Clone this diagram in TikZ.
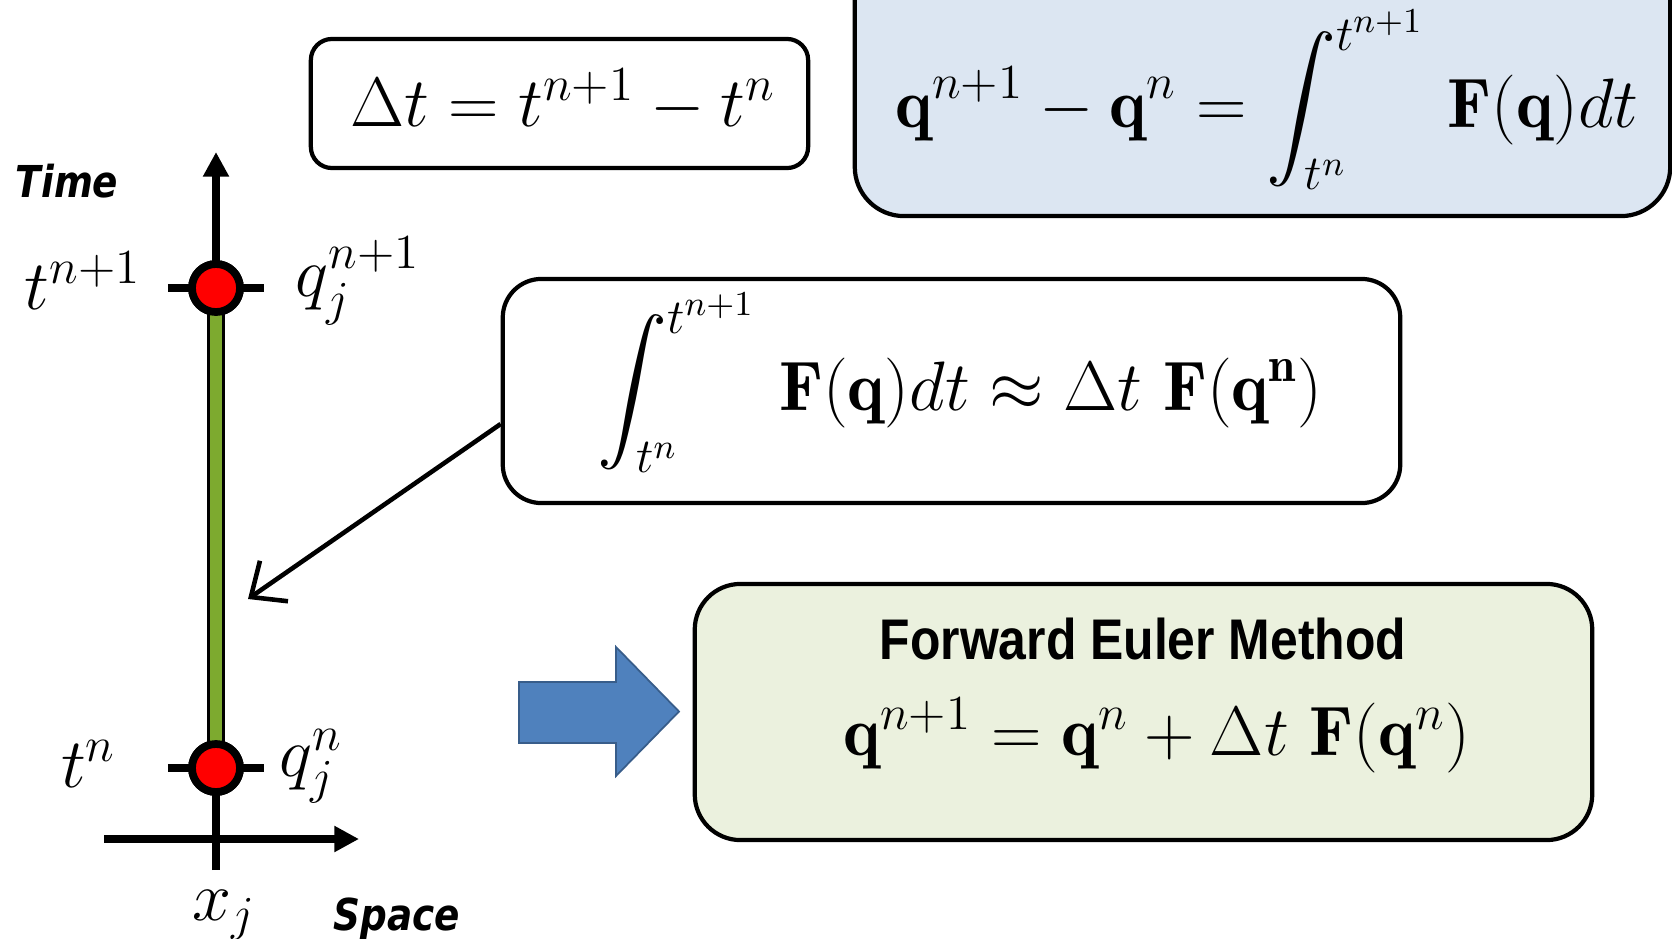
\RequirePackage{fix-cm}
\documentclass[tikz,border=0pt]{standalone}
\usepackage{amsmath,amssymb}
\usepackage{fontspec}
\newfontfamily\axisfont[FakeStretch=0.85]{DejaVu Sans}
\newfontfamily\titlefont[FakeStretch=0.87]{Liberation Sans}
\usetikzlibrary{arrows.meta}
\definecolor{exactblue}{HTML}{DCE6F2}
\definecolor{eulergreen}{HTML}{EBF1DE}
\definecolor{barcolor}{HTML}{7DAA2F}
\definecolor{arrowblue}{HTML}{4F81BD}
\definecolor{arrowedge}{HTML}{385D8A}

\begin{document}
\begin{tikzpicture}[x=0.01cm, y=-0.01cm,
    every node/.style={inner sep=0pt, font=\fontsize{19.9}{24}\selectfont},
    mathbox/.style={draw, line width=1.2pt, rounded corners=6pt},
    dot/.style={circle, draw, fill=red, line width=2.2pt, minimum size=0.48cm},
    tick/.style={line width=2pt},
    axis/.style={line width=2pt, -{Triangle[length=7pt,width=7pt]}},
    axislabel/.style={anchor=base west, font=\axisfont\bfseries\itshape\fontsize{12.5}{14}\selectfont}]
    \useasboundingbox (0,0) rectangle (1672,939);

    % Space-time axes
    \coordinate (tbot) at (216,870);
    \coordinate (ttop) at (216,152);
    \coordinate (xleft) at (104,839);
    \coordinate (xright) at (359,839);
    \draw[axis] (tbot) -- (ttop);
    \draw[axis] (xleft) -- (xright);
    \node[axislabel] (timelbl) at (15,197) {Time};
    \node[axislabel] (spacelbl) at (333,930) {Space};

    % Time levels
    \node[dot] (qnew) at (216,288) {};
    \node[dot] (qold) at (216,768) {};
    \draw[fill=barcolor, line width=0.6pt] ([xshift=-0.075cm]qnew.center) rectangle ([xshift=0.075cm]qold.center);
    \draw[tick] ([xshift=-0.48cm]qnew.center) -- ([xshift=0.48cm]qnew.center);
    \draw[tick] ([xshift=-0.48cm]qold.center) -- ([xshift=0.48cm]qold.center);
    \node[dot] at (qnew) {};
    \node[dot] at (qold) {};
    \node[anchor=base east] (tnew) at (142,309) {$t^{n+1}$};
    \node[anchor=base east] (told) at (117,787) {$t^{n}$};
    \node[anchor=base west] (qnewlbl) at (295,296) {$q_j^{n+1}$};
    \node[anchor=base west] (qoldlbl) at (279,776) {$q_j^{n}$};
    \node[anchor=base] (xlbl) at (224,920) {$x_j$};

    % Delta t
    \node[mathbox, minimum width=4.97cm, minimum height=1.29cm] (dtbox) at (559.5,103.5) {};
    \node[anchor=base] (dteq) at (563,126) {$\Delta t = t^{n+1} - t^n$};

    % Exact update
    \node[mathbox, rounded corners=14pt, fill=exactblue, minimum width=8.15cm, minimum height=3cm] (exactbox) at (1262.5,66) {};
    \node[anchor=base] (exacteq) at (1267,127) {$\displaystyle \mathbf{q}^{n+1} - \mathbf{q}^n = \int_{t^n}^{t^{n+1}}\, \mathbf{F}(\mathbf{q})dt$};

    % Approximation of the integral
    \node[mathbox, rounded corners=11pt, minimum width=8.97cm, minimum height=2.24cm] (intbox) at (951.5,391) {};
    \node[anchor=base] (inteq) at (960,410) {$\displaystyle \int_{t^n}^{t^{n+1}}\, \mathbf{F}(\mathbf{q})dt \approx \Delta t\ \mathbf{F}(\mathbf{q}^{\mathbf{n}})$};
    \coordinate (barpoint) at (248,599);
    \draw[line width=1.3pt, -{Straight Barb[length=8pt,width=14pt]}] ([yshift=-0.33cm]intbox.west) -- (barpoint);

    % Forward Euler
    \draw[fill=arrowblue, draw=arrowedge, line width=0.5pt] (519,682) -- (616,682) -- (616,647) -- (679,711.5) -- (616,776) -- (616,743) -- (519,743) -- cycle;
    \node[mathbox, rounded corners=13pt, fill=eulergreen, minimum width=8.97cm, minimum height=2.56cm] (eulerbox) at (1143.5,712) {};
    \node[anchor=base, font=\titlefont\bfseries\fontsize{16.3}{18}\selectfont] (eulertitle) at (1143,659) {Forward Euler Method};
    \node[anchor=base] (eulereq) at (1157,755) {$\mathbf{q}^{n+1} = \mathbf{q}^n + \Delta t\ \mathbf{F}(\mathbf{q}^n)$};
\end{tikzpicture}
\end{document}
